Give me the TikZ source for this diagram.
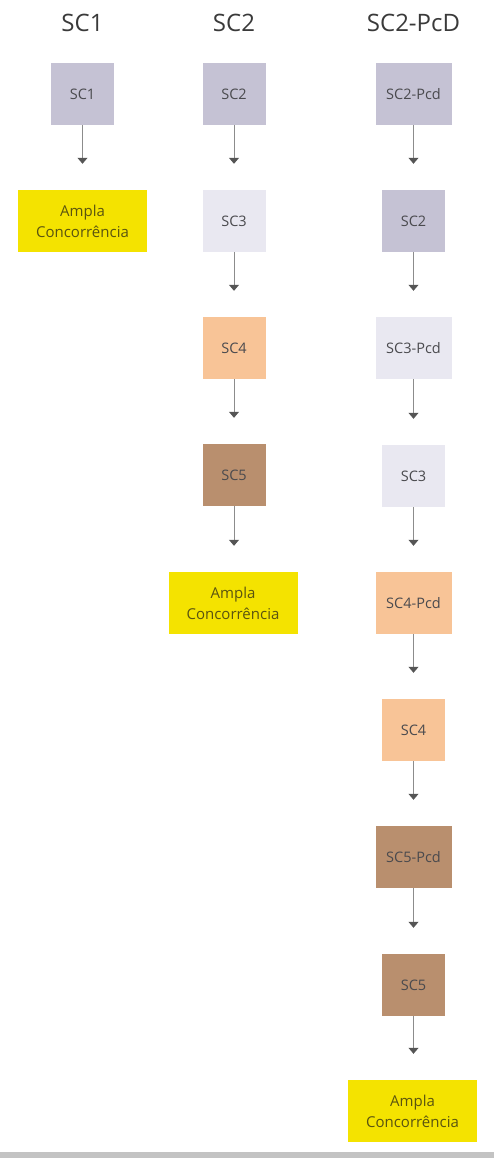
\documentclass[tikz,border=0pt]{standalone}
\usepackage{fontspec}
\setmainfont{Open Sans}
\usetikzlibrary{arrows.meta}
\definecolor{txt}{HTML}{4A4A4E}
\definecolor{ttl}{HTML}{3A3A3A}
\definecolor{cA}{HTML}{C5C2D4}
\definecolor{cB}{HTML}{E9E8F1}
\definecolor{cC}{HTML}{F8C497}
\definecolor{cD}{HTML}{B98F6E}
\definecolor{cY}{HTML}{F4E300}
\definecolor{ytxt}{HTML}{5A5410}
\definecolor{lineg}{HTML}{8C8C8C}
\definecolor{headg}{HTML}{555555}
\definecolor{barg}{HTML}{C3C3C3}
\tikzset{
  box/.style={minimum width=63pt, minimum height=62pt, inner sep=0pt, text=txt,
    font=\fontsize{14.5}{17}\selectfont, align=center},
  pcd/.style={box, minimum width=76pt},
  ampla/.style={box, minimum width=129pt, fill=cY, text=ytxt,
    font=\fontsize{15}{21}\selectfont},
  title/.style={anchor=base, text=ttl, font=\fontsize{24}{26}\selectfont},
  flow/.style={draw=lineg, line width=1pt, shorten >=26pt,
    -{Triangle[width=10pt,length=6pt,color=headg]}}
}
\begin{document}
\begin{tikzpicture}[x=1pt,y=-1pt]
\useasboundingbox (0,0) rectangle (494,1158);
\fill[barg] (0,1152) rectangle (494,1158);
% titles
\node[title] (t1) at (82.5,32) {SC1};
\node[title] (t2) at (234,32) {SC2};
\node[title] (t3) at (413.5,32) {SC2-PcD};
% column 1
\node[box, fill=cA] (a1) at (82.5,94) {SC1};
\node[ampla] (a2) at (82.5,221) {Ampla\\Concorrência};
\draw[flow] (a1) -- (a2);
% column 2
\node[box, fill=cA] (b1) at (234,94) {SC2};
\node[box, fill=cB] (b2) at (234,221) {SC3};
\node[box, fill=cC] (b3) at (234,348) {SC4};
\node[box, fill=cD] (b4) at (234,475) {SC5};
\node[ampla] (b5) at (233,603) {Ampla\\Concorrência};
\draw[flow] (b1) -- (b2);
\draw[flow] (b2) -- (b3);
\draw[flow] (b3) -- (b4);
\draw[flow] (b4.south) -- (b5.north -| b4.south);
% column 3
\node[pcd, fill=cA] (c1) at (413.5,94) {SC2-Pcd};
\node[box, fill=cA] (c2) at (413.5,221) {SC2};
\node[pcd, fill=cB] (c3) at (413.5,348) {SC3-Pcd};
\node[box, fill=cB] (c4) at (413.5,476) {SC3};
\node[pcd, fill=cC] (c5) at (413.5,603) {SC4-Pcd};
\node[box, fill=cC] (c6) at (413.5,730) {SC4};
\node[pcd, fill=cD] (c7) at (413.5,857) {SC5-Pcd};
\node[box, fill=cD] (c8) at (413.5,985) {SC5};
\node[ampla] (c9) at (412.5,1111) {Ampla\\Concorrência};
\draw[flow] (c1) -- (c2);
\draw[flow] (c2) -- (c3);
\draw[flow] (c3) -- (c4);
\draw[flow] (c4) -- (c5);
\draw[flow] (c5) -- (c6);
\draw[flow] (c6) -- (c7);
\draw[flow] (c7) -- (c8);
\draw[flow] (c8.south) -- (c9.north -| c8.south);
\end{tikzpicture}
\end{document}
